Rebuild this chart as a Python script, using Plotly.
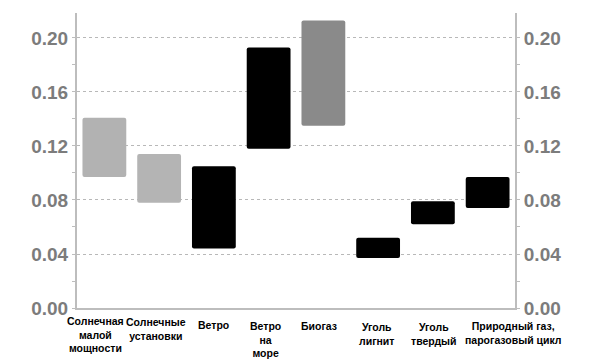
import plotly.graph_objects as go

categories = ["Солнечная малой мощности", "Солнечные установки", "Ветро", "Ветро на море",
              "Биогаз", "Уголь лигнит", "Уголь твердый", "Природный газ, парогазовый цикл"]
label_text = ["Солнечная<br>малой<br>мощности", "Солнечные<br>установки", "Ветро", "Ветро<br>на<br>море",
              "Биогаз", "Уголь<br>лигнит", "Уголь<br>твердый", "Природный газ,<br>парогазовый цикл"]
low = [0.097, 0.078, 0.044, 0.118, 0.135, 0.037, 0.062, 0.074]
high = [0.141, 0.114, 0.105, 0.193, 0.213, 0.052, 0.079, 0.097]
tick_vals = [0.00, 0.04, 0.08, 0.12, 0.16, 0.20]
tick_text = ["0.00", "0.04", "0.08", "0.12", "0.16", "0.20"]

bar_colors = ["#b2b2b2", "#b4b4b4", "#000000", "#000000", "#8a8a8a", "#000000", "#000000", "#000000"]
label_shift_x = [-9, -3, 0, -3, -4, -2, 1, 25]
label_shift_y = [-5, -6, -9, -10, -10, -11, -11, -10]

fig = go.Figure()
fig.add_trace(go.Bar(
    x=categories, y=[h - l for h, l in zip(high, low)], base=low,
    marker=dict(color=bar_colors, line=dict(width=0), cornerradius=2),
    hoverinfo="skip", showlegend=False,
))
fig.add_trace(go.Scatter(x=[categories[0]], y=[0], yaxis="y2", mode="markers",
                         marker=dict(opacity=0), showlegend=False, hoverinfo="skip"))

axis_color = "#bdbdbd"
yfont = dict(family="Liberation Sans, Arial, sans-serif", size=19, color="#7c7c7c", weight="bold")
common_y = dict(range=[0, 0.2185], tickvals=tick_vals, ticktext=tick_text, tickfont=yfont,
                showline=True, linecolor=axis_color, linewidth=2, zeroline=False,
                ticks="outside", ticklen=3, tickcolor=axis_color,
                minor=dict(dtick=0.02, tick0=0, ticks="outside", ticklen=3, tickcolor=axis_color, showgrid=False))

fig.update_layout(
    width=592, height=352,
    margin=dict(l=69, r=85, t=5, b=52, autoexpand=False),
    plot_bgcolor="white", paper_bgcolor="white",
    bargap=0.2,
    xaxis=dict(showticklabels=False, showline=True, linecolor=axis_color, linewidth=2,
               ticks="", showgrid=False, range=[-0.5, len(categories) - 0.5]),
    yaxis=dict(**common_y, showgrid=True, gridcolor="#b8b8b8", griddash="dot", gridwidth=1),
    yaxis2=dict(**common_y, overlaying="y", side="right", showgrid=False),
)

for cat, txt, sx, sy in zip(categories, label_text, label_shift_x, label_shift_y):
    fig.add_annotation(x=cat, y=0, xref="x", yref="y", text=txt, showarrow=False,
                       yanchor="top", xanchor="center", yshift=sy, xshift=sx,
                       font=dict(family="Liberation Sans, Arial, sans-serif", size=10.5, color="black",
                                 weight="bold"),
                       align="center")

fig.write_html("out.html")
